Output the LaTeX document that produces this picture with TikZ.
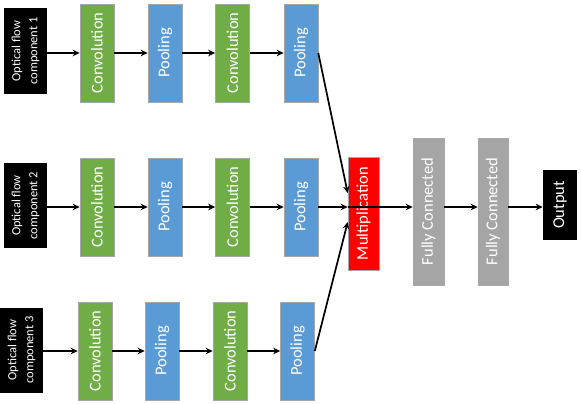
\documentclass[tikz,border=0pt]{standalone}
\usepackage{fontspec}
\setmainfont{Carlito}
\usetikzlibrary{arrows.meta,calc}
\definecolor{convgreen}{HTML}{70AD47}
\definecolor{poolblue}{HTML}{5B9BD5}
\definecolor{fcgray}{HTML}{A5A5A5}
\definecolor{multred}{HTML}{FF0000}
\tikzset{
  layer/.style={rectangle,inner sep=0pt,text=white,draw=black!35,line width=0.6pt,
    font=\fontsize{16.5}{19}\selectfont,rotate=90},
  conv/.style={layer,fill=convgreen,minimum width=98pt,minimum height=34pt},
  pool/.style={layer,fill=poolblue,minimum width=98pt,minimum height=34pt},
  inflow/.style={rectangle,inner sep=0pt,fill=black,text=white,rotate=90,align=center,
    minimum width=85pt,minimum height=43pt,font=\fontsize{12.5}{17}\selectfont},
  flow/.style={-{Stealth[length=7pt,width=6.5pt]},line width=1.7pt}
}
\begin{document}
\begin{tikzpicture}[x=1pt,y=-1pt]
\useasboundingbox (0,0) rectangle (581,404);
%first row
\node[inflow] (in1) at (25.5,51) {Optical flow\\component 1};
\node[conv] (c11) at (97,53) {Convolution};
\node[pool] (p11) at (165,53) {Pooling};
\node[conv] (c12) at (232.5,53) {Convolution};
\node[pool] (p12) at (301,53) {Pooling};

%second row
\node[inflow] (in2) at (25.5,205.5) {Optical flow\\component 2};
\node[conv] (c21) at (97,207) {Convolution};
\node[pool] (p21) at (165,207) {Pooling};
\node[conv] (c22) at (232.5,207) {Convolution};
\node[pool] (p22) at (301,207) {Pooling};

%third row
\node[inflow] (in3) at (21.5,350) {Optical flow\\component 3};
\node[conv] (c31) at (95,351) {Convolution};
\node[pool] (p31) at (162,351) {Pooling};
\node[conv] (c32) at (230,351) {Convolution};
\node[pool] (p32) at (297.5,351) {Pooling};

\node[layer,fill=multred,minimum width=113pt,minimum height=31pt] (mult) at (363.5,213.5) {Multiplication};
\node[layer,fill=fcgray,minimum width=147pt,minimum height=31pt] (fc1) at (428.5,211.5) {Fully Connected};
\node[layer,fill=fcgray,minimum width=147pt,minimum height=30pt] (fc2) at (493,211.5) {Fully Connected};
\node[layer,fill=black,draw=none,minimum width=70pt,minimum height=34pt] (out) at (560,205) {Output};

\draw [flow](in1.south |- c11.center)--(c11);
\draw [flow](c11)--(p11);
\draw [flow](p11)--(c12);
\draw [flow](c12)--(p12);

\draw [flow](in2.south |- c21.center)--(c21);
\draw [flow](c21)--(p21);
\draw [flow](p21)--(c22);
\draw [flow](c22)--(p22);

\draw [flow](in3.south |- c31.center)--(c31);
\draw [flow](c31)--(p31);
\draw [flow](p31)--(c32);
\draw [flow](c32)--(p32);

\draw [flow](p12.south)--($(mult.north east)!0.32!(mult.north west)$);
\draw [flow](p22.south)--(p22.south -| mult.north);
\draw [flow](p32.south)--($(mult.north east)!0.575!(mult.north west)$);

\draw [flow](mult.north |- p22.south)--(fc1.north |- p22.south);
\draw [flow](fc1.south |- p22.south)--(fc2.north |- p22.south);
\draw [flow](fc2.south |- p22.south)--(out.north |- p22.south);
\end{tikzpicture}
\end{document}
